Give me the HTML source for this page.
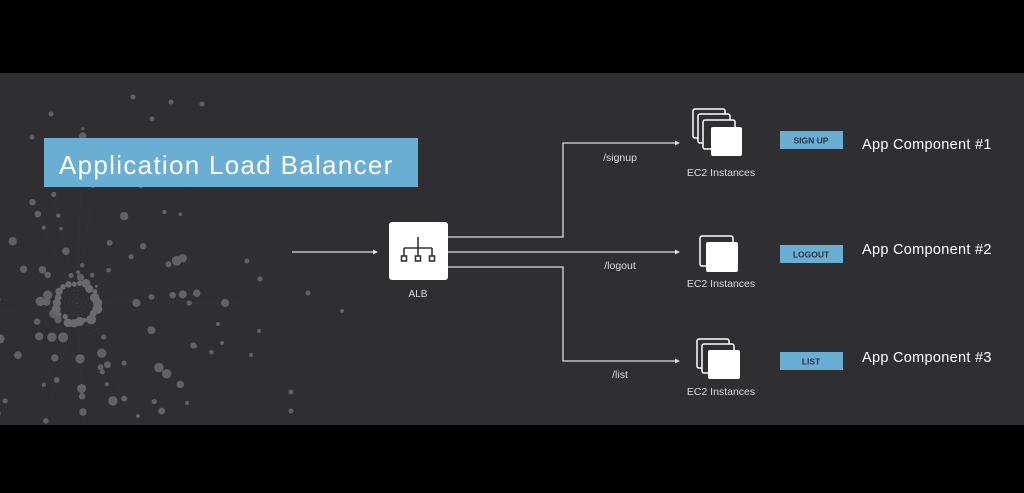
<!DOCTYPE html>
<html><head><meta charset="utf-8"><style>
html,body{margin:0;padding:0;background:#000;}
body{width:1024px;height:493px;overflow:hidden;position:relative;font-family:"Liberation Sans",sans-serif;}
svg{position:absolute;left:0;top:0;}
</style></head><body>
<svg id="s" width="1024" height="493" viewBox="0 0 1024 493">
<defs><clipPath id="c"><rect x="0" y="73" width="1024" height="352"/></clipPath></defs>
<rect x="0" y="0" width="1024" height="493" fill="#000"/>
<rect x="0" y="73" width="1024" height="352" fill="#2f2f31"/>
<g id="dots" clip-path="url(#c)"></g>
<!-- banner -->
<rect x="44" y="138" width="374" height="49" fill="#6aaed3"/>
<text x="59" y="174" font-size="26" fill="#fff" font-family="Liberation Sans, sans-serif" letter-spacing="1.3">Application Load Balancer</text>
<!-- input arrow -->
<line x1="292" y1="252" x2="373" y2="252" stroke="#ddd" stroke-width="1.3"/>
<polygon points="373,249.5 378,252 373,254.5" fill="#ddd"/>
<!-- ALB -->
<rect x="389" y="222" width="59" height="58" rx="3" fill="#fff"/>
<g stroke="#333" stroke-width="1.6" fill="none">
<line x1="418" y1="237" x2="418" y2="248"/>
<line x1="404" y1="248" x2="432" y2="248"/>
<line x1="404" y1="248" x2="404" y2="256"/><line x1="418" y1="248" x2="418" y2="256"/><line x1="432" y1="248" x2="432" y2="256"/>
<rect x="401.5" y="256" width="5" height="5"/><rect x="415.5" y="256" width="5" height="5"/><rect x="429.5" y="256" width="5" height="5"/>
</g>
<text x="418" y="297" font-size="10" fill="#ddd" text-anchor="middle">ALB</text>
<!-- connectors -->
<g stroke="#ddd" stroke-width="1.3" fill="none">
<polyline points="448,237 563,237 563,143 675,143"/>
<line x1="448" y1="252" x2="675" y2="252"/>
<polyline points="448,267 563,267 563,361 675,361"/>
</g>
<g fill="#ddd">
<polygon points="675,140.5 680,143 675,145.5"/>
<polygon points="675,249.5 680,252 675,254.5"/>
<polygon points="675,358.5 680,361 675,363.5"/>
</g>
<g font-size="10.5" fill="#ddd" text-anchor="middle">
<text x="620" y="161">/signup</text>
<text x="620" y="269">/logout</text>
<text x="620" y="378">/list</text>
<text x="721" y="176">EC2 Instances</text>
<text x="721" y="287">EC2 Instances</text>
<text x="721" y="395">EC2 Instances</text>
</g>
<!-- EC2 stacks -->
<g stroke="#fff" stroke-width="1.5" fill="#2f2f31">
<rect x="693" y="109" width="32" height="29" rx="2"/>
<rect x="698" y="114" width="32" height="29" rx="2"/>
<rect x="703" y="120" width="32" height="29" rx="2"/>
</g>
<rect x="711" y="127" width="31" height="29" rx="2" fill="#fff"/>
<g stroke="#fff" stroke-width="1.5" fill="#2f2f31">
<rect x="700" y="236" width="33" height="30" rx="2"/>
</g>
<rect x="706" y="242" width="32" height="30" rx="2" fill="#fff"/>
<g stroke="#fff" stroke-width="1.5" fill="#2f2f31">
<rect x="697" y="339" width="32" height="29" rx="2"/>
<rect x="702" y="344" width="32" height="29" rx="2"/>
</g>
<rect x="708" y="350" width="32" height="29" rx="2" fill="#fff"/>
<!-- tags -->
<g fill="#6aaed3">
<rect x="780" y="131" width="63" height="18"/>
<rect x="780" y="245" width="63" height="18"/>
<rect x="780" y="352" width="63" height="18"/>
</g>
<g font-size="8.5" font-weight="bold" fill="#234" text-anchor="middle">
<text x="811" y="143.5">SIGN UP</text>
<text x="811" y="257.5">LOGOUT</text>
<text x="811" y="364.5">LIST</text>
</g>
<g font-size="14.5" fill="#fff" letter-spacing="0.3">
<text x="862" y="149">App Component #1</text>
<text x="862" y="254">App Component #2</text>
<text x="862" y="362">App Component #3</text>
</g>
</svg>
<script>
(function(){
var g=document.getElementById('dots');var seed=7;
function r(){seed=(seed*16807)%2147483647;return seed/2147483647;}
var cx=77,cy=303,h='';
for(var i=0;i<26;i++){var a=i/26*6.283+r()*0.2;var len=90+r()*80;
 var x2=cx+Math.cos(a)*len,y2=cy+Math.sin(a)*len;
 h+='<line x1="'+cx+'" y1="'+cy+'" x2="'+x2+'" y2="'+y2+'" stroke="#444" stroke-width="0.5" stroke-dasharray="1,3"/>';
 var n=3+Math.floor(r()*3);
 for(var k=0;k<n;k++){var d=25+r()*len;var x=cx+Math.cos(a)*d,y=cy+Math.sin(a)*d;
  h+='<circle cx="'+x+'" cy="'+y+'" r="'+(1.5+r()*3.5)+'" fill="#626264"/>';}
}
for(var i=0;i<22;i++){var a=i/22*6.283;var d=17+r()*5;
 h+='<circle cx="'+(cx+Math.cos(a)*d)+'" cy="'+(cy+Math.sin(a)*d)+'" r="'+(2+r()*3)+'" fill="#6a6a6c"/>';}
var extra=[[133,97,2.5],[171,102,2.5],[202,104,2.5],[51,114,2.5],[152,119,2.5],[32,137,2.5],[247,261,2.5],[260,279,2.5],[308,293,2.5],[342,311,2],[259,331,2],[218,324,2],[251,355,2],[222,343,2],[291,392,2.5],[291,411,2.5],[187,403,2],[138,416,2]];
extra.forEach(function(e){h+='<circle cx="'+e[0]+'" cy="'+e[1]+'" r="'+e[2]+'" fill="#626264"/>';});
g.innerHTML=h;
})();
</script>
</body></html>
